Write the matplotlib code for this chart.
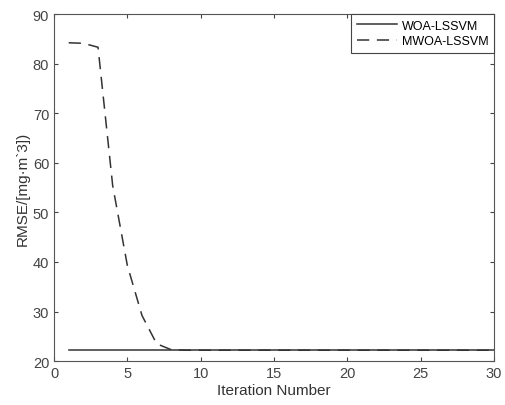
import numpy as np
import matplotlib.pyplot as plt

plt.rcParams['font.family'] = ['Liberation Sans', 'DejaVu Sans']

iterations = np.arange(1, 31)
woa = [22.2] * 30
mwoa = [84.2, 84.1, 83.3, 55.4, 39.3, 29.2, 23.5, 22.3] + [22.2] * 22

fig = plt.figure(figsize=(5.05, 4.06), dpi=100)
ax = fig.add_axes([0.107, 0.108, 0.871, 0.855])

ax.plot(iterations, mwoa, color='#333333', lw=1.1, ls=(0, (8, 5)), label='MWOA-LSSVM')
ax.plot(iterations, woa, color='#333333', lw=1.1, ls='-', label='WOA-LSSVM')

ax.set_xlim(0, 30)
ax.set_ylim(20, 90)
ax.set_xticks(np.arange(0, 31, 5))
ax.set_yticks(np.arange(20, 91, 10))
ax.tick_params(direction='in', top=True, right=True, labelsize=10.5,
               colors='#444444', length=3)
for s in ax.spines.values():
    s.set_color('#555555')
    s.set_linewidth(0.8)

ax.set_xlabel('Iteration Number', fontsize=11, color='#333333', labelpad=2)
ax.set_ylabel('RMSE/[mg·m`3])', fontsize=11, color='#333333', labelpad=2)

h, l = ax.get_legend_handles_labels()
leg = ax.legend(h[::-1], l[::-1], loc='upper right', fontsize=9, fancybox=False,
                framealpha=1, edgecolor='#444444', borderaxespad=0,
                handlelength=3.2, handletextpad=0.4, labelspacing=0.3,
                borderpad=0.45)
leg.get_frame().set_linewidth(0.8)

fig.savefig('out.png', dpi=100)
